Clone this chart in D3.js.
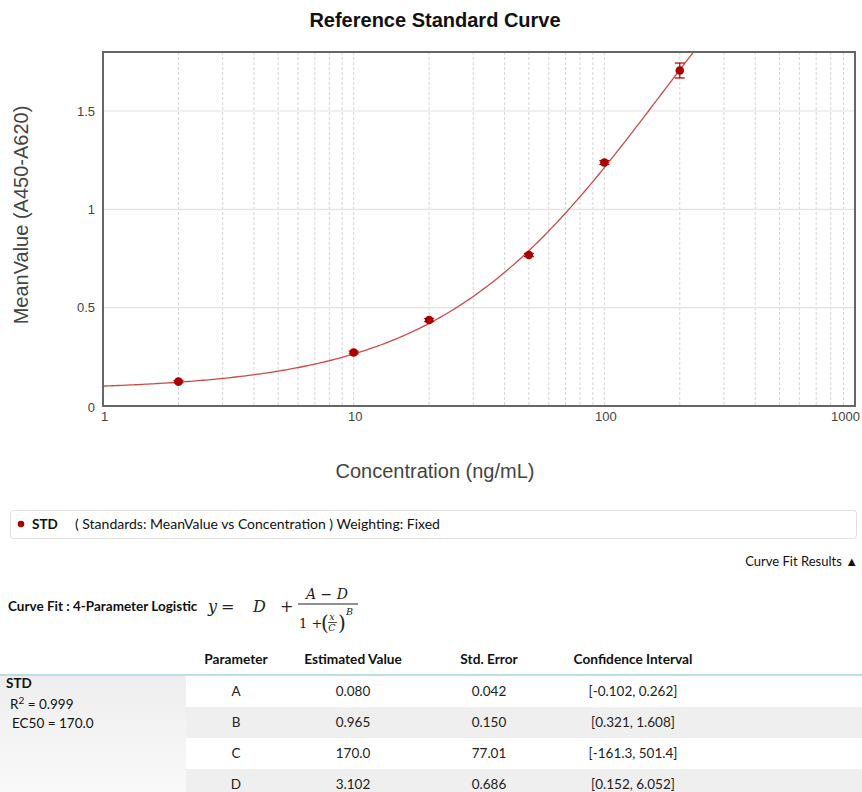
<!DOCTYPE html>
<html><head><meta charset="utf-8">
<script src="https://cdn.jsdelivr.net/npm/d3@7"></script>
<style>
html,body{margin:0;padding:0;background:#fff;}
svg{display:block;}
</style></head>
<body>
<svg id="c" width="862" height="792"></svg>
<script>
// ---------- data ----------
const concentrations = [2, 10, 20, 50, 100, 200];
const meanValues     = [0.124, 0.272, 0.437, 0.768, 1.238, 1.706];
const errorValues    = [0.006, 0.007, 0.008, 0.008, 0.010, 0.038];
const xTickLabels    = ["1", "10", "100", "1000"];
const yTickLabels    = ["0", "0.5", "1", "1.5"];
const paramNames     = ["A", "B", "C", "D"];
const paramEstimates = ["0.080", "0.965", "170.0", "3.102"];
const paramStdErrors = ["0.042", "0.150", "77.01", "0.686"];
const paramConfInts  = ["[-0.102, 0.262]", "[0.321, 1.608]", "[-161.3, 501.4]", "[0.152, 6.052]"];
const tableHeaders   = ["Parameter", "Estimated Value", "Std. Error", "Confidence Interval"];
const fitStats       = ["0.999", "170.0"]; // R2, EC50

const svg = d3.select("#c");
const M = {left: 103, right: 855, top: 52, bottom: 406};
const x = d3.scaleLog().domain([1, 1000]).range([M.left, M.right]);
const y = d3.scaleLinear().domain([0, 1.8]).range([M.bottom, M.top]);
const sans = "'Liberation Sans', Arial, sans-serif";
const ui = "Lato, 'Open Sans', sans-serif";

// title
svg.append("text").attr("x", 435).attr("y", 27).attr("text-anchor", "middle")
  .attr("font-family", sans).attr("font-weight", "bold").attr("font-size", 20).attr("fill", "#111")
  .text("Reference Standard Curve");

// grid
const minorTicks = [];
[1, 10, 100].forEach(d => { for (let k = 2; k <= 9; k++) minorTicks.push(d * k); });
[10, 100].forEach(v => minorTicks.push(v));
svg.append("g").selectAll("line").data(minorTicks).join("line")
  .attr("x1", d => x(d)).attr("x2", d => x(d)).attr("y1", M.top).attr("y2", M.bottom)
  .attr("stroke", "#d6d6d6").attr("stroke-width", 1).attr("stroke-dasharray", "3,2");
svg.append("g").selectAll("line").data([0.5, 1, 1.5]).join("line")
  .attr("x1", M.left).attr("x2", M.right).attr("y1", d => y(d)).attr("y2", d => y(d))
  .attr("stroke", "#e2e2e2").attr("stroke-width", 1.2);

// axes (labels only, via d3 axes)
const xAxis = d3.axisBottom(x).tickValues(xTickLabels.map(Number)).tickSize(0).tickFormat((d, i) => xTickLabels[i]);
const gx = svg.append("g").attr("transform", `translate(0,${M.bottom})`).call(xAxis);
gx.select(".domain").remove();
gx.selectAll("text").attr("font-family", sans).attr("font-size", 13).attr("fill", "#444").attr("dy", "0.95em")
  .attr("dx", (d, i) => i === xTickLabels.length - 1 ? -10 : 1);
const yAxis = d3.axisLeft(y).tickValues(yTickLabels.map(Number)).tickSize(0).tickFormat((d, i) => yTickLabels[i]);
const gy = svg.append("g").attr("transform", `translate(${M.left - 5},0)`).call(yAxis);
gy.select(".domain").remove();
gy.selectAll("text").attr("font-family", sans).attr("font-size", 13).attr("fill", "#444")
  .attr("dy", (d) => d === 0 ? "0.45em" : "0.32em");

// curve from fitted 4PL parameters
const [pA, pB, pC, pD] = paramEstimates.map(Number);
const fit = v => pD + (pA - pD) / (1 + Math.pow(v / pC, pB));
svg.append("clipPath").attr("id", "pc").append("rect")
  .attr("x", M.left).attr("y", M.top).attr("width", M.right - M.left).attr("height", M.bottom - M.top);
const xs = d3.range(0, 3.0001, 0.01).map(e => Math.pow(10, e));
svg.append("path").datum(xs).attr("clip-path", "url(#pc)")
  .attr("d", d3.line().x(d => x(d)).y(d => y(fit(d))))
  .attr("fill", "none").attr("stroke", "#cc4a4a").attr("stroke-width", 1.3);

// error bars & points
const pts = concentrations.map((c, i) => ({c, m: meanValues[i], e: errorValues[i]}));
const eg = svg.append("g").attr("stroke", "#a80000").attr("stroke-width", 1.2);
eg.selectAll(".v").data(pts).join("line")
  .attr("x1", d => x(d.c)).attr("x2", d => x(d.c)).attr("y1", d => y(d.m - d.e)).attr("y2", d => y(d.m + d.e));
eg.selectAll(".t").data(pts).join("line")
  .attr("x1", d => x(d.c) - 5).attr("x2", d => x(d.c) + 5).attr("y1", d => y(d.m + d.e)).attr("y2", d => y(d.m + d.e));
eg.selectAll(".b").data(pts).join("line")
  .attr("x1", d => x(d.c) - 5).attr("x2", d => x(d.c) + 5).attr("y1", d => y(d.m - d.e)).attr("y2", d => y(d.m - d.e));
svg.append("g").selectAll("circle").data(pts).join("circle")
  .attr("cx", d => x(d.c)).attr("cy", d => y(d.m)).attr("r", 4.3).attr("fill", "#a80000");

// plot frame
svg.append("rect").attr("x", M.left).attr("y", M.top).attr("width", M.right - M.left).attr("height", M.bottom - M.top)
  .attr("fill", "none").attr("stroke", "#666").attr("stroke-width", 2);

// axis titles
svg.append("text").attr("x", 435).attr("y", 478).attr("text-anchor", "middle")
  .attr("font-family", sans).attr("font-size", 20).attr("fill", "#444").text("Concentration (ng/mL)");
svg.append("text").attr("transform", "translate(28,215) rotate(-90)").attr("text-anchor", "middle")
  .attr("font-family", sans).attr("font-size", 20).attr("fill", "#444").text("MeanValue (A450-A620)");

// legend box
svg.append("rect").attr("x", 10.5).attr("y", 510.5).attr("width", 846).attr("height", 28).attr("rx", 3)
  .attr("fill", "#fff").attr("stroke", "#e0e0e0");
svg.append("circle").attr("cx", 21).attr("cy", 524).attr("r", 3.3).attr("fill", "#a80000");
svg.append("text").attr("x", 32).attr("y", 529).attr("font-family", ui).attr("font-weight", "bold")
  .attr("font-size", 13.5).attr("fill", "#111").text("STD");
svg.append("text").attr("x", 75).attr("y", 529).attr("font-family", ui)
  .attr("font-size", 14).attr("fill", "#111").text("( Standards: MeanValue vs Concentration )  Weighting: Fixed");

svg.append("text").attr("x", 858).attr("y", 565.5).attr("text-anchor", "end").attr("font-family", ui)
  .attr("font-size", 13).attr("fill", "#111").text("Curve Fit Results \u25B2");

// curve fit title + formula
svg.append("text").attr("x", 8).attr("y", 611).attr("font-family", ui).attr("font-weight", "bold")
  .attr("font-size", 13.5).attr("fill", "#111").text("Curve Fit : 4-Parameter Logistic");
const serif = "'DejaVu Serif', 'Liberation Serif', serif";
const fg = svg.append("g").attr("font-family", serif).attr("fill", "#222").attr("font-style", "italic");
fg.append("text").attr("x", 208).attr("y", 612).attr("font-size", 16).text("y");
fg.append("text").attr("x", 221).attr("y", 612).attr("font-size", 16).attr("font-style", "normal").text("=");
fg.append("text").attr("x", 253).attr("y", 612).attr("font-size", 16).text("D");
fg.append("text").attr("x", 280).attr("y", 612).attr("font-size", 16).attr("font-style", "normal").text("+");
fg.append("text").attr("x", 327).attr("y", 599).attr("font-size", 14).attr("text-anchor", "middle").text("A \u2212 D");
fg.append("line").attr("x1", 298).attr("x2", 358).attr("y1", 604).attr("y2", 604).attr("stroke", "#222").attr("stroke-width", 1);
fg.append("text").attr("x", 299).attr("y", 628).attr("font-size", 13).attr("font-style", "normal").text("1 +");
fg.append("text").attr("x", 321).attr("y", 630).attr("font-size", 20).attr("font-style", "normal").text("(");
fg.append("text").attr("x", 332).attr("y", 620).attr("font-size", 9.5).attr("text-anchor", "middle").text("x");
fg.append("line").attr("x1", 328).attr("x2", 337).attr("y1", 622.5).attr("y2", 622.5).attr("stroke", "#222").attr("stroke-width", 0.8);
fg.append("text").attr("x", 332).attr("y", 631).attr("font-size", 9.5).attr("text-anchor", "middle").text("C");
fg.append("text").attr("x", 338).attr("y", 630).attr("font-size", 20).attr("font-style", "normal").text(")");
fg.append("text").attr("x", 346).attr("y", 615).attr("font-size", 9.5).text("B");

// table
const colX = [236, 353, 489, 633];
const rowTop = 676, rowH = 31;
const defs = svg.append("defs");
const lg = defs.append("linearGradient").attr("id", "lg").attr("x1", 0).attr("x2", 0).attr("y1", 0).attr("y2", 1);
lg.append("stop").attr("offset", "0%").attr("stop-color", "#eeeeee");
lg.append("stop").attr("offset", "100%").attr("stop-color", "#f9f9f9");
svg.append("rect").attr("x", 0).attr("y", rowTop).attr("width", 186).attr("height", 792 - rowTop).attr("fill", "url(#lg)");
svg.append("g").selectAll("rect").data(paramNames).join("rect")
  .attr("x", 186).attr("y", (d, i) => rowTop + i * rowH).attr("width", 862 - 186).attr("height", rowH)
  .attr("fill", (d, i) => i % 2 === 1 ? "#efefef" : "#fff");
svg.append("line").attr("x1", 0).attr("x2", 862).attr("y1", 675).attr("y2", 675).attr("stroke", "#b9dde9").attr("stroke-width", 2);
svg.append("g").selectAll("text").data(tableHeaders).join("text")
  .attr("x", (d, i) => colX[i]).attr("y", 664).attr("text-anchor", "middle")
  .attr("font-family", ui).attr("font-weight", "bold").attr("font-size", 13.7).attr("fill", "#111").text(d => d);
const rows = paramNames.map((p, i) => [p, paramEstimates[i], paramStdErrors[i], paramConfInts[i]]);
const rg = svg.append("g").attr("font-family", ui).attr("font-size", 13.5).attr("fill", "#222");
rows.forEach((r, i) => {
  rg.append("g").selectAll("text").data(r).join("text")
    .attr("x", (d, j) => colX[j]).attr("y", rowTop + i * rowH + 20).attr("text-anchor", "middle").text(d => d);
});
const lt = svg.append("g").attr("font-family", ui).attr("font-size", 13.5).attr("fill", "#111");
lt.append("text").attr("x", 6).attr("y", 688).attr("font-weight", "bold").text("STD");
const r2 = lt.append("text").attr("x", 10).attr("y", 709);
r2.append("tspan").text("R");
r2.append("tspan").attr("font-size", 10).attr("dy", -5).text("2");
r2.append("tspan").attr("dy", 5).text(" = " + fitStats[0]);
lt.append("text").attr("x", 12).attr("y", 728).text("EC50 = " + fitStats[1]);
</script>
</body></html>
